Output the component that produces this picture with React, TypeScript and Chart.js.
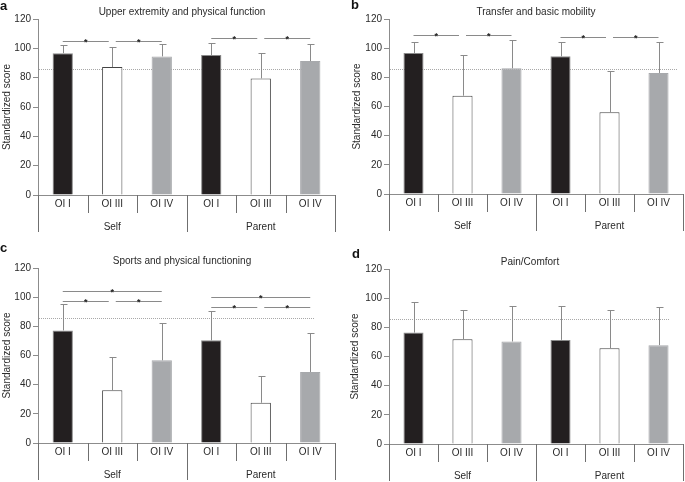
import React, { useEffect, useRef } from "react";
import { Chart, registerables } from "chart.js";

Chart.register(...registerables);

// ---------- data ----------
const categories = ["OI I", "OI III", "OI IV", "OI I", "OI III", "OI IV"];
const groups = ["Self", "Parent"];
const yTicks = [0, 20, 40, 60, 80, 100, 120];
const referenceScore = 85.7;

const titleA = "Upper extremity and physical function";
const meanA = [96.7, 87.2, 94.5, 95.4, 79.5, 91.3];
const upperA = [102.2, 100.9, 102.9, 103.6, 96.8, 102.9];
const sigA: number[][] = [[0, 1, 105.2], [1, 2, 105.2], [3, 4, 107], [4, 5, 107]];

const titleB = "Transfer and basic mobility";
const meanB = [96.7, 67.4, 86.2, 94.4, 56, 83];
const upperB = [104, 95.1, 105.4, 104.2, 84.1, 104.2];
const sigB: number[][] = [[0, 1, 109.2], [1, 2, 109.2], [3, 4, 107.4], [4, 5, 107.4]];

const titleC = "Sports and physical functioning";
const meanC = [77.2, 36.1, 56.7, 70.4, 27.6, 48.7];
const upperC = [95.3, 59, 82.3, 90.7, 45.7, 75.4];
const sigC: number[][] = [
  [0, 2, 104.5], [0, 1, 97.6], [1, 2, 97.6],
  [3, 5, 99.9], [3, 4, 93], [4, 5, 93],
];

const titleD = "Pain/Comfort";
const meanD = [76.4, 71.9, 70.3, 71.4, 65.7, 67.8];
const upperD = [97.3, 91.6, 94.8, 94.8, 91.6, 93.9];
const sigD: number[][] = [];

// ---------- styles ----------
const FONT = '"Liberation Sans", Arial, Helvetica, sans-serif';
const fills = ["#231f20", "#ffffff", "#a7a9ac"];
const borders = ["#8a8a8a", "#444444", "#a7a9ac"];
const AXIS = "#8c8c8c";
const TEXT = "#2a2a2a";

type Panel = {
  letter: string;
  title: string;
  mean: number[];
  upper: number[];
  sig: number[][];
  left: number;
  top: number;
  width: number;
  height: number;
  padTop: number;
  padRight: number;
  yWidth: number;
  xHeight: number;
  titleX: number;
  titleY: number;
  letterX: number;
  letterY: number;
  yTitleX: number;
  refInset: number;
};

const panels: Panel[] = [
  { letter: "a", title: titleA, mean: meanA, upper: upperA, sig: sigA,
    left: 0, top: 0, width: 340, height: 241, padTop: 19, padRight: 5, yWidth: 38, xHeight: 46,
    titleX: 182, titleY: 12, letterX: 0, letterY: 10, yTitleX: 7, refInset: 20 },
  { letter: "b", title: titleB, mean: meanB, upper: upperB, sig: sigB,
    left: 340, top: 0, width: 345, height: 241, padTop: 19, padRight: 2, yWidth: 49, xHeight: 47,
    titleX: 196, titleY: 12, letterX: 11, letterY: 9, yTitleX: 17, refInset: 5 },
  { letter: "c", title: titleC, mean: meanC, upper: upperC, sig: sigC,
    left: 0, top: 240, width: 340, height: 242, padTop: 28, padRight: 5, yWidth: 38, xHeight: 39,
    titleX: 182, titleY: 21, letterX: 0, letterY: 12, yTitleX: 7, refInset: 20 },
  { letter: "d", title: titleD, mean: meanD, upper: upperD, sig: sigD,
    left: 340, top: 240, width: 345, height: 242, padTop: 29, padRight: 2, yWidth: 49, xHeight: 38,
    titleX: 190, titleY: 22, letterX: 12, letterY: 18, yTitleX: 15, refInset: 13 },
];

const extrasPlugin = {
  id: "panelExtras",
  beforeDatasetsDraw(chart: any, _a: any, opts: any) {
    const { ctx, chartArea } = chart;
    const y = chart.scales.y;
    const py = Math.round(y.getPixelForValue(opts.ref)) + 0.5;
    ctx.save();
    ctx.strokeStyle = "#a8a8a8";
    ctx.lineWidth = 1;
    ctx.setLineDash([1, 1]);
    ctx.beginPath();
    ctx.moveTo(chartArea.left + 1, py);
    ctx.lineTo(chartArea.right - opts.refInset, py);
    ctx.stroke();
    ctx.restore();
  },
  afterDatasetsDraw(chart: any, _a: any, opts: any) {
    const { ctx } = chart;
    const x = chart.scales.x;
    const y = chart.scales.y;
    ctx.save();
    // error bars (upper only)
    ctx.strokeStyle = "#8a8a8a";
    ctx.lineWidth = 1;
    (opts.mean as number[]).forEach((m, i) => {
      const cx = Math.round(x.getPixelForValue(i)) + 0.5;
      const y0 = y.getPixelForValue(m);
      const y1 = Math.round(y.getPixelForValue(opts.upper[i])) + 0.5;
      ctx.beginPath();
      ctx.moveTo(cx, y0);
      ctx.lineTo(cx, y1);
      ctx.moveTo(cx - 3, y1);
      ctx.lineTo(cx + 4, y1);
      ctx.stroke();
    });
    // significance brackets
    (opts.sig as number[][]).forEach(([from, to, val]) => {
      const x1 = x.getPixelForValue(from) + (from % 3 === 1 ? 3.5 : 0);
      const x2 = x.getPixelForValue(to) - (to % 3 === 1 ? 3.5 : 0);
      const py = Math.round(y.getPixelForValue(val)) + 0.5;
      ctx.strokeStyle = "#8a8a8a";
      ctx.beginPath();
      ctx.moveTo(x1, py);
      ctx.lineTo(x2, py);
      ctx.stroke();
      ctx.fillStyle = "#222";
      ctx.font = `bold 9px ${FONT}`;
      ctx.textAlign = "center";
      ctx.textBaseline = "alphabetic";
      ctx.fillText("*", (x1 + x2) / 2, py + 3);
    });
    ctx.restore();
  },
  afterDraw(chart: any, _a: any, opts: any) {
    const { ctx, chartArea } = chart;
    const x = chart.scales.x;
    const bottom = chartArea.bottom;
    ctx.save();
    // title
    ctx.fillStyle = TEXT;
    ctx.font = `10px ${FONT}`;
    ctx.textAlign = "center";
    ctx.textBaseline = "middle";
    ctx.fillText(opts.title, opts.titleX, opts.titleY);
    // panel letter
    ctx.font = `bold 13px ${FONT}`;
    ctx.textAlign = "left";
    ctx.textBaseline = "alphabetic";
    ctx.fillStyle = "#111";
    ctx.fillText(opts.letter, opts.letterX, opts.letterY);
    // y title
    ctx.save();
    ctx.translate(opts.yTitleX, (chartArea.top + chartArea.bottom) / 2);
    ctx.rotate(-Math.PI / 2);
    ctx.font = `10px ${FONT}`;
    ctx.fillStyle = TEXT;
    ctx.textAlign = "center";
    ctx.textBaseline = "middle";
    ctx.fillText("Standardized score", 0, 0);
    ctx.restore();
    // category dividers
    const n = categories.length;
    const boundary = (k: number) => {
      if (k === 0) return chartArea.left;
      if (k === n) return chartArea.right;
      return (x.getPixelForValue(k - 1) + x.getPixelForValue(k)) / 2;
    };
    ctx.strokeStyle = "#6f6f6f";
    ctx.lineWidth = 1;
    for (let k = 0; k <= n; k++) {
      const bx = Math.round(boundary(k)) + 0.5;
      const len = k % 3 === 0 ? 37 : 18;
      ctx.beginPath();
      ctx.moveTo(bx, bottom);
      ctx.lineTo(bx, bottom + len);
      ctx.stroke();
    }
    // category labels
    ctx.fillStyle = TEXT;
    ctx.font = `10px ${FONT}`;
    ctx.textAlign = "center";
    ctx.textBaseline = "middle";
    categories.forEach((c, i) => {
      ctx.fillText(c, x.getPixelForValue(i), bottom + 9.5);
    });
    // group labels
    groups.forEach((g, gi) => {
      const gx = (boundary(gi * 3) + boundary(gi * 3 + 3)) / 2;
      ctx.fillText(g, gx, bottom + 32);
    });
    ctx.restore();
  },
};

function PanelChart({ p }: { p: Panel }) {
  const ref = useRef<HTMLCanvasElement | null>(null);
  useEffect(() => {
    if (!ref.current) return;
    const chart = new Chart(ref.current, {
      type: "bar",
      data: {
        labels: categories,
        datasets: [
          {
            data: p.mean,
            backgroundColor: categories.map((_, i) => fills[i % 3]),
            borderColor: categories.map((_, i) => borders[i % 3]),
            borderWidth: 1,
            categoryPercentage: 1,
            barPercentage: 0.41,
          },
        ],
      },
      options: {
        responsive: false,
        devicePixelRatio: 1,
        animation: false,
        layout: { padding: { top: p.padTop, right: p.padRight, left: 0, bottom: 0 } },
        plugins: {
          legend: { display: false },
          tooltip: { enabled: false },
          title: { display: false },
          panelExtras: {
            title: p.title,
            letter: p.letter,
            mean: p.mean,
            upper: p.upper,
            sig: p.sig,
            ref: referenceScore,
            titleX: p.titleX,
            titleY: p.titleY,
            letterX: p.letterX,
            letterY: p.letterY,
            yTitleX: p.yTitleX,
            refInset: p.refInset,
          },
        } as any,
        scales: {
          x: {
            type: "category",
            offset: true,
            ticks: { display: false },
            grid: { display: false, drawTicks: false },
            border: { display: true, color: AXIS },
            afterFit: (s: any) => {
              s.height = p.xHeight;
            },
          },
          y: {
            min: 0,
            max: 120,
            afterBuildTicks: (s: any) => {
              s.ticks = yTicks.map((v) => ({ value: v }));
            },
            ticks: { color: TEXT, font: { size: 10, family: FONT }, padding: 2 },
            grid: { drawOnChartArea: false, drawTicks: true, tickLength: 5, color: AXIS },
            border: { display: true, color: AXIS },
            afterFit: (s: any) => {
              s.width = p.yWidth;
            },
          },
        },
      },
      plugins: [extrasPlugin as any],
    });
    return () => chart.destroy();
  }, [p]);
  return (
    <canvas
      ref={ref}
      width={p.width}
      height={p.height}
      style={{
        position: "absolute",
        left: p.left,
        top: p.top,
        width: p.width,
        height: p.height,
      }}
    />
  );
}

export default function App() {
  useEffect(() => {
    document.body.style.margin = "0";
    document.body.style.background = "#ffffff";
  }, []);
  return (
    <div
      style={{
        position: "absolute",
        left: 0,
        top: 0,
        width: 685,
        height: 482,
        background: "#ffffff",
        overflow: "hidden",
      }}
    >
      {panels.map((p) => (
        <PanelChart key={p.letter} p={p} />
      ))}
    </div>
  );
}
